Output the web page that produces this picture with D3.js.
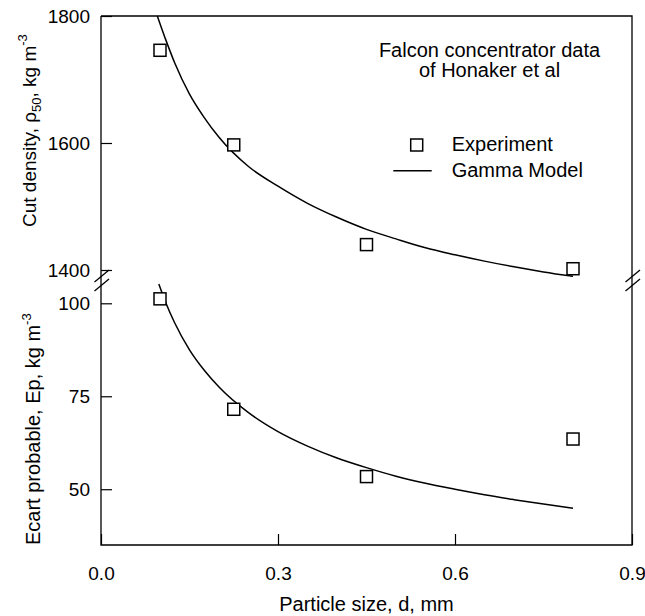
<!DOCTYPE html>
<html><head><meta charset="utf-8">
<script src="https://cdn.jsdelivr.net/npm/d3@7"></script>
<style>
body{margin:0;background:#fff;}
svg{display:block;font-family:"Liberation Sans",Arial,sans-serif;}
</style></head><body>
<svg id="c" width="645" height="616"></svg>
<script>
// ---- data ----
const expSize = [0.1, 0.225, 0.45, 0.8];
const expCutDensity = [1746, 1597, 1440, 1402];
const expEcart = [101.2, 71.5, 53.4, 63.5];

const modelSize = [0.11, 0.125, 0.15, 0.175, 0.2, 0.25, 0.3, 0.35, 0.4, 0.45, 0.5, 0.55, 0.6, 0.65, 0.7, 0.75, 0.8];
const modelCutDensity = [1762, 1726, 1677, 1640, 1609, 1563, 1532, 1505, 1483, 1464, 1449, 1435, 1424, 1414, 1405, 1397, 1390];
const modelEcart = [100.1, 94.7, 87.5, 82.0, 77.5, 70.6, 65.5, 61.6, 58.4, 55.8, 53.5, 51.6, 50.0, 48.5, 47.2, 46.0, 44.9];
// curve start points (where the model enters each panel)
const modelStartTop = [0.0955, 1800];
const modelStartBot = [0.098, 105.2];

const xTicks = [0, 0.3, 0.6, 0.9];
const topTicks = [1400, 1600, 1800];
const botTicks = [50, 75, 100];

// ---- layout ----
const L = 101, R = 632, T = 16, B = 545;
const svg = d3.select("#c");
const x = d3.scaleLinear().domain([0, 0.9]).range([L, R]);
const yTop = d3.scaleLinear().domain([1400, 1800]).range([270, T]);
const yBot = d3.scaleLinear().domain([35, 100]).range([B, 303.3]);

const FS = 19;

// axes
const gx = svg.append("g").attr("transform", `translate(0,${B})`)
  .call(d3.axisBottom(x).tickValues(xTicks).tickSize(-11).tickSizeOuter(0).tickPadding(22).tickFormat(d3.format(".1f")));
const gyt = svg.append("g").attr("transform", `translate(${L},0)`)
  .call(d3.axisLeft(yTop).tickValues(topTicks).tickSize(-11).tickSizeOuter(0).tickPadding(11).tickFormat(d3.format("d")));
const gyb = svg.append("g").attr("transform", `translate(${L},0)`)
  .call(d3.axisLeft(yBot).tickValues(botTicks).tickSize(-11).tickSizeOuter(0).tickPadding(11).tickFormat(d3.format("d")));
[gx, gyt, gyb].forEach(g => {
  g.select(".domain").remove();
  g.selectAll("line").attr("stroke", "#000").attr("stroke-width", 1.2);
  g.selectAll("text").attr("fill", "#000").style("font-size", FS + "px").style("font-family", '"Liberation Sans",Arial,sans-serif');
});

// frame
const frame = svg.append("g").attr("stroke", "#000").attr("stroke-width", 1.3).attr("fill", "none");
frame.append("path").attr("d", `M${L},${T}V${B}H${R}V${T}H${L}`);

// break marks
const brk = svg.append("g").attr("stroke", "#000").attr("stroke-width", 1.3);
[L, R].forEach(cx => {
  brk.append("line").attr("x1", cx - 6.5).attr("y1", 282).attr("x2", cx + 8).attr("y2", 270);
  brk.append("line").attr("x1", cx - 6.5).attr("y1", 291).attr("x2", cx + 8).attr("y2", 279);
});

// model curves
const lineTop = d3.line().x(d => x(d[0])).y(d => yTop(d[1])).curve(d3.curveMonotoneX);
const lineBot = d3.line().x(d => x(d[0])).y(d => yBot(d[1])).curve(d3.curveMonotoneX);
svg.append("path").attr("d", lineTop([modelStartTop].concat(d3.zip(modelSize, modelCutDensity))))
  .attr("fill", "none").attr("stroke", "#000").attr("stroke-width", 1.5);
svg.append("path").attr("d", lineBot([modelStartBot].concat(d3.zip(modelSize, modelEcart))))
  .attr("fill", "none").attr("stroke", "#000").attr("stroke-width", 1.5);

// experiment squares
const S = 12;
function squares(vals, ys) {
  svg.append("g").selectAll("rect").data(d3.zip(expSize, vals)).join("rect")
    .attr("x", d => x(d[0]) - S / 2).attr("y", d => ys(d[1]) - S / 2)
    .attr("width", S).attr("height", S)
    .attr("fill", "#fff").attr("stroke", "#000").attr("stroke-width", 1.5);
}
squares(expCutDensity, yTop);
squares(expEcart, yBot);

// legend / annotation
const LF = 20;
svg.append("text").attr("x", 489.5).attr("y", 56.7).attr("text-anchor", "middle")
  .style("font-size", LF + "px").text("Falcon concentrator data");
svg.append("text").attr("x", 489.5).attr("y", 76.7).attr("text-anchor", "middle")
  .style("font-size", LF + "px").text("of Honaker et al");
svg.append("rect").attr("x", 416.7 - S / 2).attr("y", 145 - S / 2).attr("width", S).attr("height", S)
  .attr("fill", "#fff").attr("stroke", "#000").attr("stroke-width", 1.5);
svg.append("text").attr("x", 451.7).attr("y", 150.7).style("font-size", LF + "px").text("Experiment");
svg.append("line").attr("x1", 393.3).attr("x2", 431.7).attr("y1", 170.7).attr("y2", 170.7)
  .attr("stroke", "#000").attr("stroke-width", 1.5);
svg.append("text").attr("x", 451.7).attr("y", 176.7).style("font-size", LF + "px").text("Gamma Model");

// axis titles
svg.append("text").attr("x", (L + R) / 2).attr("y", 611).attr("text-anchor", "middle")
  .style("font-size", LF + "px").text("Particle size, d, mm");

const t1 = svg.append("text").attr("transform", "translate(36,227) rotate(-90)")
  .attr("text-anchor", "start").style("font-size", "19px");
t1.append("tspan").text("Cut density, \u03C1");
t1.append("tspan").attr("dy", 5).style("font-size", "13px").text("50");
t1.append("tspan").attr("dy", -5).text(", kg m");
t1.append("tspan").attr("dy", -9).style("font-size", "13px").text("-3");

const t2 = svg.append("text").attr("transform", "translate(40,545) rotate(-90)")
  .attr("text-anchor", "start").style("font-size", LF + "px");
t2.append("tspan").text("Ecart probable, Ep, kg m");
t2.append("tspan").attr("dy", -9).style("font-size", "13px").text("-3");
</script>
</body></html>
